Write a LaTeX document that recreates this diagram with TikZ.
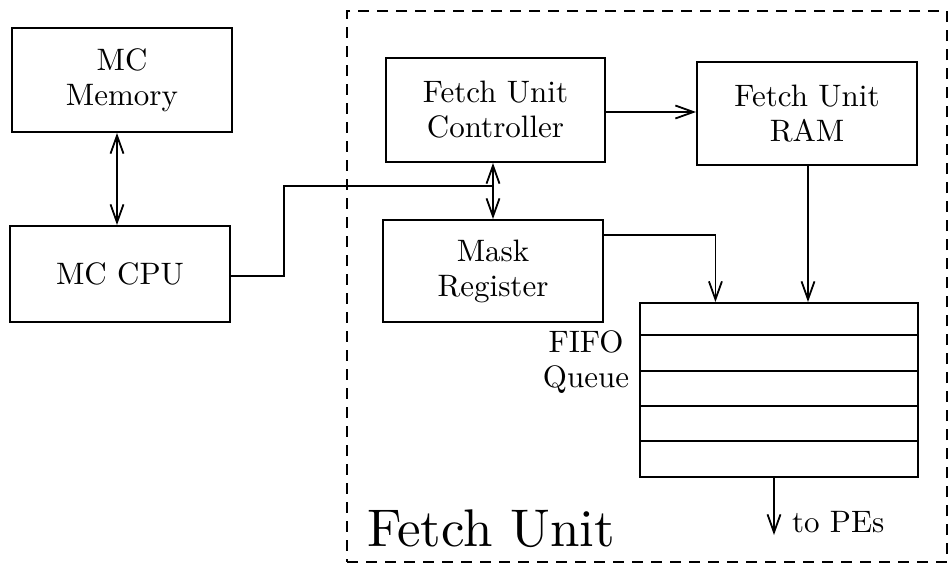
\documentclass[tikz,border=0pt]{standalone}
\usepackage{fontspec}
\setmainfont{lmroman10-regular.otf}[BoldFont=lmroman10-bold.otf]
\usetikzlibrary{arrows.meta,calc}
\begin{document}
\begin{tikzpicture}[x=1pt,y=-1pt,
  line width=2pt,
  box/.style={draw,rectangle,align=center,inner sep=0pt,font=\fontsize{31}{35}\selectfont},
  conn/.style={line width=1.8pt},
  tip/.style={-{Straight Barb[length=18pt,width=13pt,line width=1.8pt]}},
  dtip/.style={{Straight Barb[length=18pt,width=13pt,line width=1.8pt]}-{Straight Barb[length=18pt,width=13pt,line width=1.8pt]}},
  lbl/.style={font=\fontsize{31}{35}\selectfont,inner sep=0pt},
  fence/.style={dash pattern=on 11pt off 8pt,line width=2.2pt}]
\useasboundingbox[fill=white] (0,0) rectangle (950,570);
% dashed fetch unit region
\node[draw,fence,minimum width=600pt,minimum height=551pt,inner sep=0pt] (fu) at (647,286.5) {};
\node[anchor=base west,inner sep=0pt,font=\fontsize{53}{60}\selectfont] (futxt) at (366,546) {Fetch Unit};
% boxes
\node[box,minimum width=220pt,minimum height=104pt] (mem) at (122,80) {MC\\Memory};
\node[box,minimum width=220pt,minimum height=96pt] (cpu) at (120,274) {MC CPU};
\node[box,minimum width=219pt,minimum height=104pt] (ctrl) at (495.5,110) {Fetch Unit\\Controller};
\node[box,minimum width=220pt,minimum height=103pt] (ram) at (807,113.5) {Fetch Unit\\RAM};
\node[box,minimum width=220pt,minimum height=102pt] (mask) at (493,271) {Mask\\Register};
\node[draw,rectangle,minimum width=278pt,minimum height=174pt,inner sep=0pt] (fifo) at (779,390) {};
\foreach \f in {0.19,0.39,0.59,0.79}
  \draw ($(fifo.north west)!\f!(fifo.south west)$) -- ($(fifo.north east)!\f!(fifo.south east)$);
\node[lbl,anchor=base,align=center] (fifotxt) at (586,387) {FIFO\\Queue};
% connectors
\draw[conn,dtip] (mem.south -| 117,0) -- (cpu.north -| 117,0);
\coordinate (j) at (493,186);
\coordinate (bend) at (284,186);
\draw[conn] ($(cpu.north east)!0.52!(cpu.south east)$) -| (bend) -- (j);
\draw[conn,dtip] (ctrl.south -| j) -- (mask.north -| j);
\draw[conn,tip] (ctrl.east |- 0,112) -- (ram.west |- 0,112);
\draw[conn,tip] (ram.south -| 808,0) -- (fifo.north -| 808,0);
\draw[conn,tip] ($(mask.north east)!0.15!(mask.south east)$) -| ($(fifo.north west)!0.273!(fifo.north east)$);
\coordinate (pe) at (774,535);
\draw[conn,tip] (fifo.south -| pe) -- (pe);
\node[lbl,anchor=base west] (petxt) at (791,532) {to PEs};
\end{tikzpicture}
\end{document}
